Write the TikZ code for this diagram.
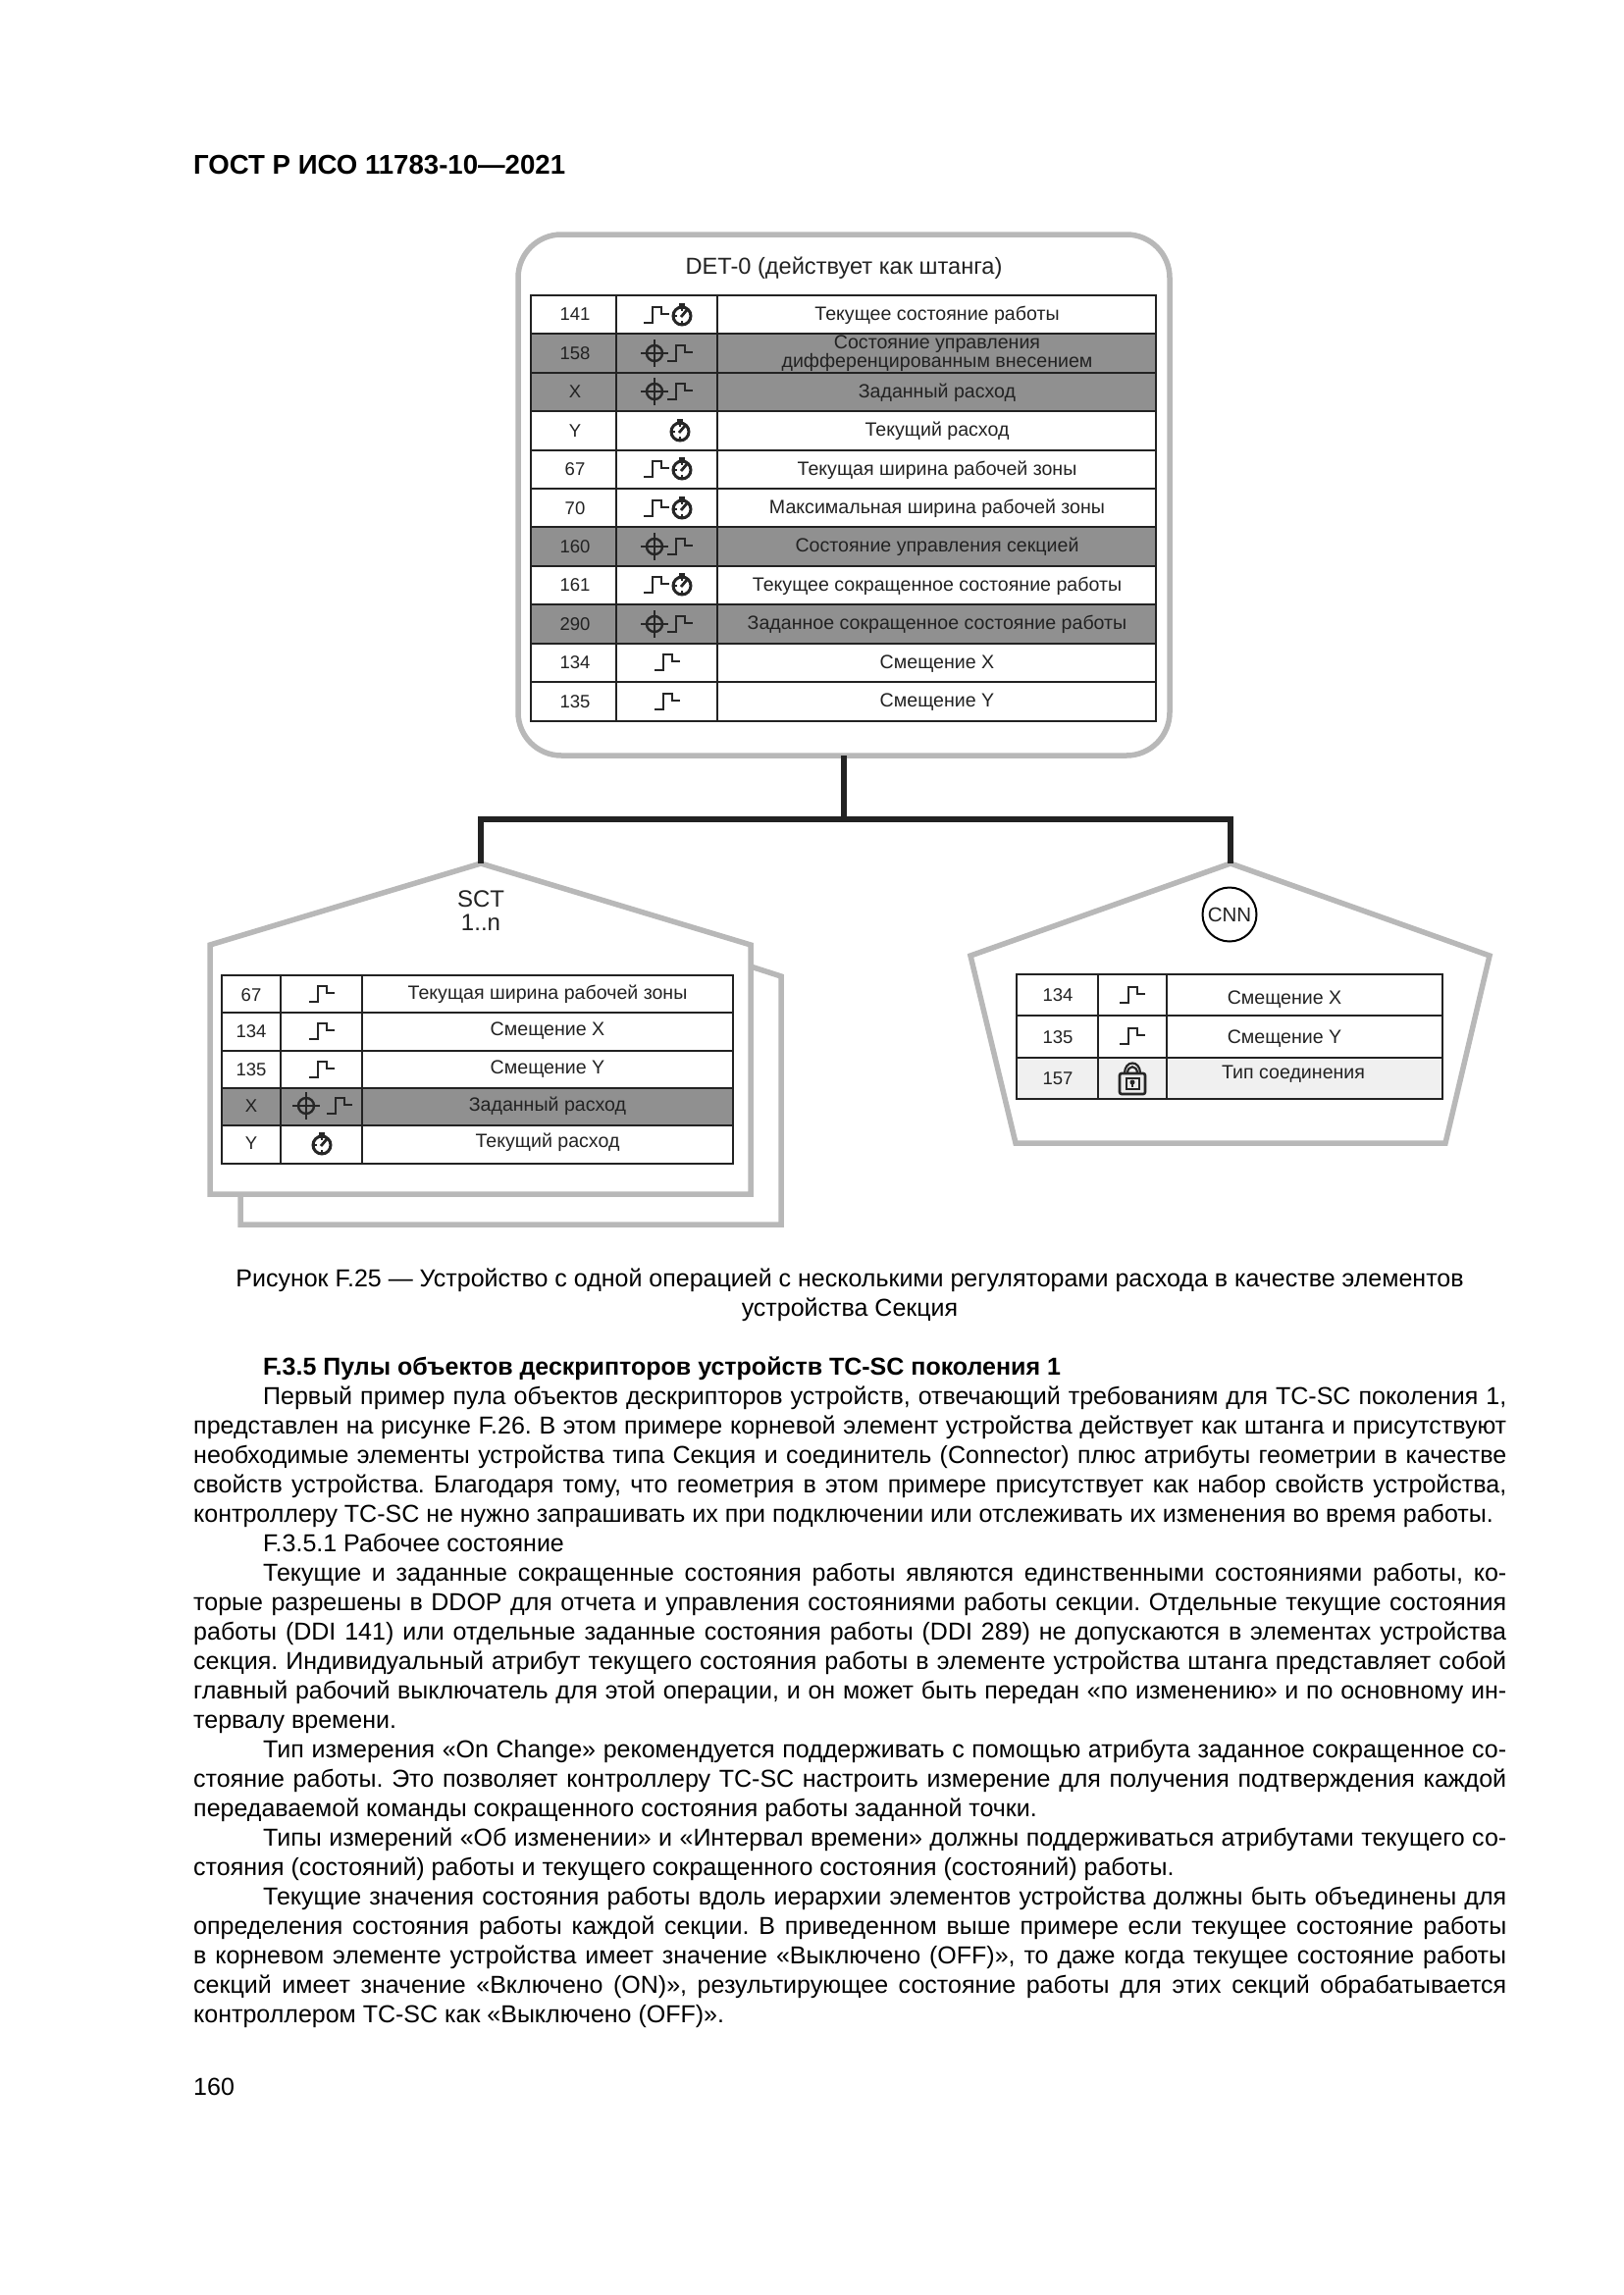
\documentclass[tikz,border=0pt]{standalone}
\usepackage{fontspec}
\setmainfont{Liberation Sans}
\usetikzlibrary{positioning}

\newcommand{\fullline}[1]{\makebox[1338pt][s]{\spaceskip=0pt\xspaceskip=0pt #1}}
\newcommand{\paraline}[1]{\makebox[1338pt][s]{\spaceskip=0pt\xspaceskip=0pt\hspace*{71pt}#1}}
\newcommand{\lastline}[1]{\mbox{\spaceskip=0pt\xspaceskip=0pt #1}}
\newcommand{\lastpara}[1]{\mbox{\spaceskip=0pt\xspaceskip=0pt\hspace*{71pt}#1}}

\definecolor{framegray}{HTML}{B8B8B8}
\definecolor{rowgray}{HTML}{909090}
\definecolor{inkgray}{HTML}{222222}

\tikzset{
  framebox/.style={draw=framegray,line width=5.5pt,fill=white,line join=miter},
  busline/.style={draw=inkgray,line width=5.5pt},
  tableline/.style={draw=inkgray,line width=2.8pt},
  thintable/.style={draw=inkgray,line width=2.2pt},
  grayrow/.style={fill=rowgray},
  palerow/.style={fill=black!6},
  celltext/.style={font=\fontsize{19.6}{15}\selectfont,text=inkgray,inner sep=0pt,align=center},
  numtext/.style={font=\fontsize{18.5}{16}\selectfont,text=inkgray,inner sep=0pt},
  pagetext/.style={font=\fontsize{25}{30}\selectfont\frenchspacing,text=black,inner sep=0pt},
  icon/.style={draw=black!85,line width=2.8pt,line join=miter},
  stepicon/.pic={
    \draw[icon] (-13,8) -- (-4,8) -- (-4,-8) -- (5,-8) -- (5,-1) -- (13,-1);
  },
  clockicon/.pic={
    \draw[icon,line width=3pt] (0,1) circle (9);
    \draw[icon,line width=3pt] (-3,-10.5) -- (3,-10.5);
    \draw[icon] (-1,2) -- (5,-5);
    \draw[icon,line width=1.6pt] (0,-7) -- (0,-4) (0,6) -- (0,9) (-8,1) -- (-5,1);
  },
  targeticon/.pic={
    \draw[icon,line width=2.4pt] (0,0) circle (8);
    \draw[icon,line width=2.2pt] (-14,0) -- (14,0) (0,-14) -- (0,14);
  },
  lockicon/.pic={
    \draw[icon,line width=2.2pt] (-8,-6) .. controls (-8,-20) and (8,-20) .. (8,-6);
    \draw[icon,line width=2.2pt] (-5,-6) .. controls (-5,-15) and (5,-15) .. (5,-6);
    \draw[icon,line width=2.6pt,rounded corners=2pt,fill=black!8] (-13,-6) rectangle (13,15);
    \draw[icon,line width=2pt] (-6.5,-1) rectangle (6.5,10);
    \fill[black!85] (0,3) circle (2.5);
    \draw[icon,line width=2pt] (0,3) -- (0,8);
  },
}

\begin{document}
\begin{tikzpicture}[x=1pt,y=-1pt]
  \useasboundingbox (0,0) rectangle (1654,2339);
  \fill[white] (0,0) rectangle (1654,2339);

  \node[pagetext,anchor=base west,font=\fontsize{27.6}{30}\bfseries\selectfont] (header) at (197,177) {ГОСТ Р ИСО 11783-10—2021};  % Page header

  % Frames of the three device elements
  \draw[framebox,rounded corners=44pt] (528,239) rectangle (1192,770);                                   % DET frame
  \draw[framebox] (245,1217) -- (245,1248) -- (796,1248) -- (796,995) -- (765,985);                       % SCT frame behind
  \draw[framebox] (490,880) -- (765,963) -- (765,1217) -- (214,1217) -- (214,963) -- cycle;               % SCT frame
  \draw[framebox] (1254,880) -- (1518,974) -- (1473,1165) -- (1035,1165) -- (989,974) -- cycle;           % CNN frame

  % Bus between the frames
  \coordinate (detfoot) at (860,770);
  \coordinate (busjoin) at (860,835);
  \coordinate (sctapex) at (490,880);
  \coordinate (sctbus) at (490,835);
  \coordinate (cnnapex) at (1254,880);
  \coordinate (cnnbus) at (1254,835);
  \draw[busline] (detfoot) -- (busjoin);
  \draw[busline] (sctapex) -- (sctbus) -- (cnnbus) -- (cnnapex);

  \node[celltext,font=\fontsize{23.6}{26}\selectfont] (dettitle) at (860,273) {DET-0 (действует как штанга)};   % DET title
  \node[celltext,font=\fontsize{24}{24}\selectfont] (scttitle) at (490,928) {SCT\\1..n};                      % SCT title
  \node[circle,draw=black,line width=2pt,minimum size=55pt,inner sep=0pt,text=inkgray,font=\fontsize{20.5}{20}\selectfont] (cnntitle) at (1253,932) {CNN};   % CNN title

  % DET table
  \fill[white] (541,301) rectangle (1178,735);
  \fill[grayrow] (541,340) rectangle (1178,419);       % Rows 158 and X
  \fill[grayrow] (541,537) rectangle (1178,577);       % Row 160
  \fill[grayrow] (541,616) rectangle (1178,656);       % Row 290
  \draw[tableline] (541,301) rectangle (1178,735);
  \draw[tableline] (628,301) -- (628,735);
  \draw[tableline] (731,301) -- (731,735);
  \draw[tableline] (541,340) -- (1178,340);
  \draw[tableline] (541,380) -- (1178,380);
  \draw[tableline] (541,419) -- (1178,419);
  \draw[tableline] (541,459) -- (1178,459);
  \draw[tableline] (541,498) -- (1178,498);
  \draw[tableline] (541,537) -- (1178,537);
  \draw[tableline] (541,577) -- (1178,577);
  \draw[tableline] (541,616) -- (1178,616);
  \draw[tableline] (541,656) -- (1178,656);
  \draw[tableline] (541,695) -- (1178,695);

  \node[numtext] (det141) at (586,320) {141};
  \node[numtext] (det158) at (586,360) {158};
  \node[numtext] (detx) at (586,399) {X};
  \node[numtext] (dety) at (586,439) {Y};
  \node[numtext] (det67) at (586,478) {67};
  \node[numtext] (det70) at (586,518) {70};
  \node[numtext] (det160) at (586,557) {160};
  \node[numtext] (det161) at (586,596) {161};
  \node[numtext] (det290) at (586,636) {290};
  \node[numtext] (det134) at (586,675) {134};
  \node[numtext] (det135) at (586,715) {135};

  \pic at (669,321) {stepicon};   \pic at (695,321) {clockicon};
  \pic at (667,360) {targeticon}; \pic at (693,360) {stepicon};
  \pic at (667,399) {targeticon}; \pic at (693,399) {stepicon};
  \pic at (693,439) {clockicon};
  \pic at (669,478) {stepicon};   \pic at (695,478) {clockicon};
  \pic at (669,518) {stepicon};   \pic at (695,518) {clockicon};
  \pic at (667,557) {targeticon}; \pic at (693,557) {stepicon};
  \pic at (669,596) {stepicon};   \pic at (695,596) {clockicon};
  \pic at (667,636) {targeticon}; \pic at (693,636) {stepicon};
  \pic at (680,675) {stepicon};
  \pic at (680,715) {stepicon};

  \node[celltext] (labela) at (955,321) {Текущее состояние работы};
  \node[celltext] (labelb) at (955,360) {Состояние управления\\дифференцированным внесением};
  \node[celltext] (labelc) at (955,400) {Заданный расход};
  \node[celltext] (labeld) at (955,439) {Текущий расход};
  \node[celltext] (labele) at (955,479) {Текущая ширина рабочей зоны};
  \node[celltext] (labelf) at (955,518) {Максимальная ширина рабочей зоны};
  \node[celltext] (labelg) at (955,557) {Состояние управления секцией};
  \node[celltext] (labelh) at (955,597) {Текущее сокращенное состояние работы};
  \node[celltext] (labeli) at (955,636) {Заданное сокращенное состояние работы};
  \node[celltext] (labelj) at (955,677) {Смещение X};
  \node[celltext] (labelk) at (955,716) {Смещение Y};

  % SCT table
  \fill[white] (226,994) rectangle (747,1186);
  \fill[grayrow] (226,1109) rectangle (747,1147);      % Row X
  \draw[tableline] (226,994) rectangle (747,1186);
  \draw[tableline] (286,994) -- (286,1186);
  \draw[tableline] (369,994) -- (369,1186);
  \draw[tableline] (226,1032) -- (747,1032);
  \draw[tableline] (226,1071) -- (747,1071);
  \draw[tableline] (226,1109) -- (747,1109);
  \draw[tableline] (226,1147) -- (747,1147);

  \node[numtext] (sct67) at (256,1014) {67};
  \node[numtext] (sct134) at (256,1051) {134};
  \node[numtext] (sct135) at (256,1090) {135};
  \node[numtext] (sctx) at (256,1127) {X};
  \node[numtext] (scty) at (256,1165) {Y};

  \pic at (328,1013) {stepicon};
  \pic at (328,1051) {stepicon};
  \pic at (328,1090) {stepicon};
  \pic at (312,1127) {targeticon}; \pic at (346,1127) {stepicon};
  \pic at (328,1166) {clockicon};

  \node[celltext] (sctlabela) at (558,1013) {Текущая ширина рабочей зоны};
  \node[celltext] (sctlabelb) at (558,1051) {Смещение X};
  \node[celltext] (sctlabelc) at (558,1090) {Смещение Y};
  \node[celltext] (sctlabeld) at (558,1127) {Заданный расход};
  \node[celltext] (sctlabele) at (558,1164) {Текущий расход};

  % CNN table
  \fill[white] (1036,993) rectangle (1470,1120);
  \fill[palerow] (1036,1078) rectangle (1470,1120);    % Row 157
  \draw[thintable] (1036,993) rectangle (1470,1120);
  \draw[thintable] (1119,993) -- (1119,1120);
  \draw[thintable] (1189,993) -- (1189,1120);
  \draw[thintable] (1036,1035) -- (1470,1035);
  \draw[thintable] (1036,1078) -- (1470,1078);

  \node[numtext] (cnn134) at (1078,1014) {134};
  \node[numtext] (cnn135) at (1078,1057) {135};
  \node[numtext] (cnn157) at (1078,1099) {157};

  \pic at (1154,1014) {stepicon};
  \pic at (1154,1056) {stepicon};
  \pic at (1154,1100) {lockicon};

  \node[celltext] (cnnlabela) at (1309,1019) {Смещение X};
  \node[celltext] (cnnlabelb) at (1309,1059) {Смещение Y};
  \node[celltext] (cnnlabelc) at (1318,1095) {Тип соединения};

  % Figure caption
  \node[pagetext,align=center] (caption) at (866,1320) {Рисунок F.25 — Устройство с одной операцией с несколькими регуляторами расхода в качестве элементов\\устройства Секция};

  % Page text
  \node[pagetext,anchor=base west,font=\fontsize{25}{30}\bfseries\selectfont] (sectitle) at (268,1401) {F.3.5 Пулы объектов дескрипторов устройств TC-SC поколения 1};
  \node[pagetext,anchor=north west,text width=1338pt,align=left] (bodytext) at (197,1413) {%
    \paraline{Первый пример пула объектов дескрипторов устройств, отвечающий требованиям для TC-SC поколения 1,}\\
    \fullline{представлен на рисунке F.26. В этом примере корневой элемент устройства действует как штанга и присутствуют}\\
    \fullline{необходимые элементы устройства типа Секция и соединитель (Connector) плюс атрибуты геометрии в качестве}\\
    \fullline{свойств устройства. Благодаря тому, что геометрия в этом примере присутствует как набор свойств устройства,}\\
    \lastline{контроллеру TC-SC не нужно запрашивать их при подключении или отслеживать их изменения во время работы.}\\
    \lastpara{F.3.5.1 Рабочее состояние}\\
    \paraline{Текущие и заданные сокращенные состояния работы являются единственными состояниями работы, ко-}\\
    \fullline{торые разрешены в DDOP для отчета и управления состояниями работы секции. Отдельные текущие состояния}\\
    \fullline{работы (DDI 141) или отдельные заданные состояния работы (DDI 289) не допускаются в элементах устройства}\\
    \fullline{секция. Индивидуальный атрибут текущего состояния работы в элементе устройства штанга представляет собой}\\
    \fullline{главный рабочий выключатель для этой операции, и он может быть передан «по изменению» и по основному ин-}\\
    \lastline{тервалу времени.}\\
    \paraline{Тип измерения «On Change» рекомендуется поддерживать с помощью атрибута заданное сокращенное со-}\\
    \fullline{стояние работы. Это позволяет контроллеру TC-SC настроить измерение для получения подтверждения каждой}\\
    \lastline{передаваемой команды сокращенного состояния работы заданной точки.}\\
    \paraline{Типы измерений «Об изменении» и «Интервал времени» должны поддерживаться атрибутами текущего со-}\\
    \lastline{стояния (состояний) работы и текущего сокращенного состояния (состояний) работы.}\\
    \paraline{Текущие значения состояния работы вдоль иерархии элементов устройства должны быть объединены для}\\
    \fullline{определения состояния работы каждой секции. В приведенном выше примере если текущее состояние работы}\\
    \fullline{в корневом элементе устройства имеет значение «Выключено (OFF)», то даже когда текущее состояние работы}\\
    \fullline{секций имеет значение «Включено (ON)», результирующее состояние работы для этих секций обрабатывается}\\
    \lastline{контроллером TC-SC как «Выключено (OFF)».}
  };

  \node[pagetext,anchor=base west] (pagenum) at (197,2135) {160};   % Page number
\end{tikzpicture}
\end{document}
